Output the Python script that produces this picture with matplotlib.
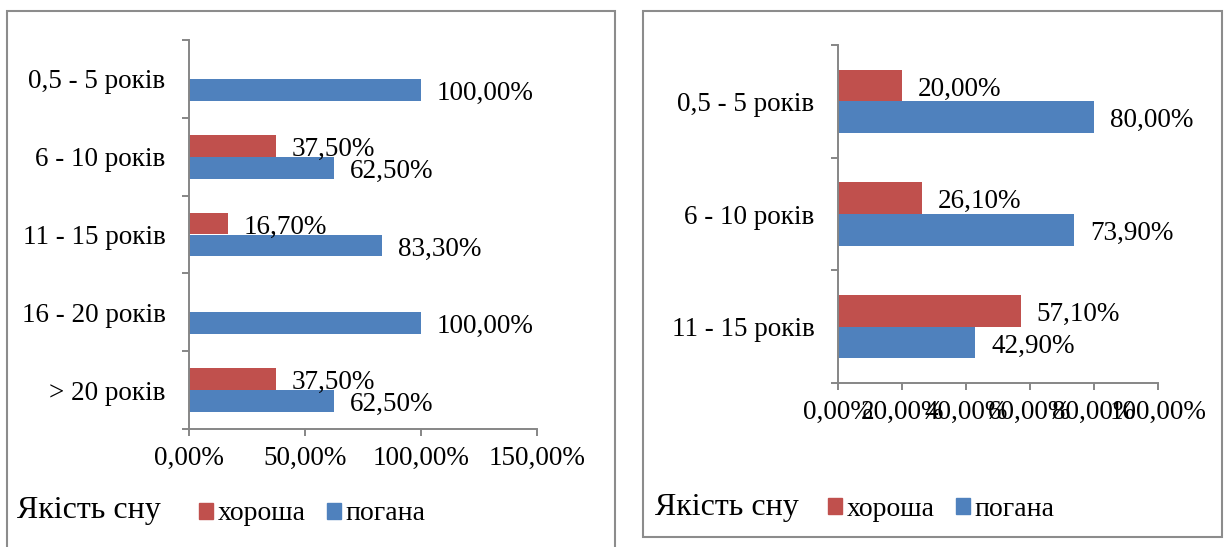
import numpy as np
import matplotlib.pyplot as plt
from matplotlib.patches import Rectangle, Patch

plt.rcParams['font.family'] = ['Liberation Serif', 'DejaVu Serif']
plt.rcParams['font.size'] = 19.5

# Sleep quality by work experience, two groups
groups_a = ['0,5 - 5 років', '6 - 10 років', '11 - 15 років', '16 - 20 років', '> 20 років']
good_a = [0, 37.5, 16.7, 0, 37.5]
bad_a = [100, 62.5, 83.3, 100, 62.5]
ticks_a = [0, 50, 100, 150]

groups_b = ['0,5 - 5 років', '6 - 10 років', '11 - 15 років']
good_b = [20, 26.1, 57.1]
bad_b = [80, 73.9, 42.9]
ticks_b = [0, 20, 40, 60, 80, 100]

legend_title = 'Якість сну'
series_names = ['хороша', 'погана']

RED = '#C0504D'
BLUE = '#4F81BD'
GREY = '#868686'

W, H = 1227, 547


def pct(v):
    return f'{v:.2f}%'.replace('.', ',')


def draw_panel(ax, groups, good, bad, ticks):
    y = np.arange(len(groups))
    h = 0.282
    ax.barh(y - h / 2, good, height=h, color=RED)
    ax.barh(y + h / 2, bad, height=h, color=BLUE)

    for ys, vals in ((y - h / 2, good), (y + h / 2, bad)):
        for yy, v in zip(ys, vals):
            if v > 0:
                ax.annotate(pct(v), xy=(v, yy), xytext=(11.5, -2.5),
                            textcoords='offset points', ha='left', va='center')

    ax.set_ylim(len(groups) - 0.5, -0.5)
    ax.set_xlim(ticks[0], ticks[-1])
    ax.set_xticks(ticks)
    ax.set_xticklabels([pct(t) for t in ticks])
    ax.set_yticks(y)
    ax.set_yticklabels(groups)
    ax.set_yticks(np.arange(len(groups) + 1) - 0.5, minor=True)

    ax.tick_params(axis='y', which='major', length=0, pad=17)
    ax.tick_params(axis='y', which='minor', length=5, width=1.4, color=GREY)
    ax.tick_params(axis='x', length=5, width=1.4, color=GREY, pad=7)

    for side in ('top', 'right'):
        ax.spines[side].set_visible(False)
    for side in ('left', 'bottom'):
        ax.spines[side].set_color(GREY)
        ax.spines[side].set_linewidth(1.4)


def add_legend(fig, title_x, title_base, box_x, box_y):
    fig.text(title_x / W, 1 - title_base / H, legend_title, fontsize=23,
             va='baseline', ha='left')
    handles = [Patch(color=RED, label=series_names[0]),
               Patch(color=BLUE, label=series_names[1])]
    fig.legend(handles=handles, loc='center left',
               bbox_to_anchor=(box_x / W, 1 - box_y / H), ncol=2,
               frameon=False, fontsize=20, borderpad=0, borderaxespad=0,
               handlelength=0.5, handleheight=0.5, handletextpad=0.18,
               columnspacing=0.75)


fig = plt.figure(figsize=(W / 100, H / 100), dpi=100)

# panel frames
fig.patches.append(Rectangle((6.5 / W, -0.05), (614.5 - 6.5) / W, 1 - 11 / H + 0.05,
                             transform=fig.transFigure, fill=False,
                             edgecolor='#8C8C8C', linewidth=1.5))
fig.patches.append(Rectangle((643 / W, 1 - 537 / H), (1221.5 - 643) / W, (537 - 11) / H,
                             transform=fig.transFigure, fill=False,
                             edgecolor='#8C8C8C', linewidth=1.5))

ax1 = fig.add_axes([189 / W, 1 - 429 / H, 348 / W, 389 / H])
draw_panel(ax1, groups_a, good_a, bad_a, ticks_a)
add_legend(fig, 17, 518, 199, 514)

ax2 = fig.add_axes([838 / W, 1 - 383 / H, 320 / W, 338 / H])
draw_panel(ax2, groups_b, good_b, bad_b, ticks_b)
add_legend(fig, 655, 515, 828, 509)

fig.savefig('out.png', dpi=100)
